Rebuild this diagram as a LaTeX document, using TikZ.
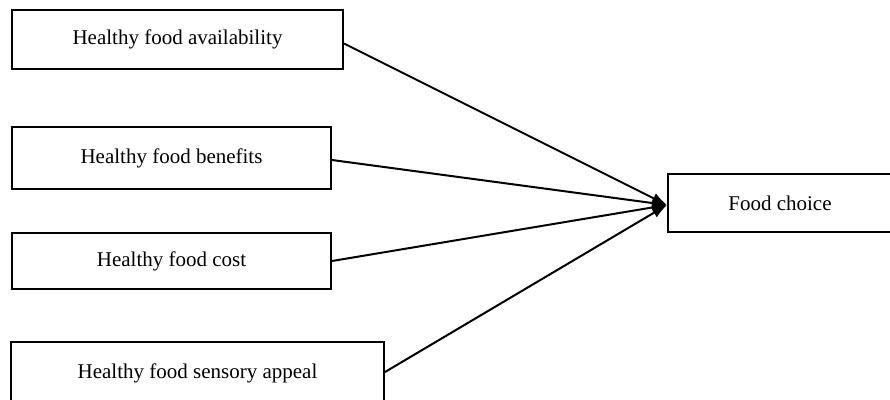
\documentclass[tikz,border=0pt]{standalone}
\usepackage{fontspec}
\setmainfont{Liberation Serif}
\usetikzlibrary{arrows.meta}
\begin{document}
\begin{tikzpicture}[x=1pt,y=-1pt,
  box/.style={draw,line width=2pt,rectangle,inner sep=0pt,font=\fontsize{21}{25}\selectfont},
  link/.style={line width=2pt,-{Latex[length=15pt,width=11pt]}}]
\useasboundingbox (0,0) rectangle (890,399);
\begin{scope}
\clip (0,0) rectangle (890,399);
\node[box,minimum width=331pt,minimum height=59pt] (b1) at (177.5,39.5) {\raisebox{-2pt}{Healthy food availability}};
\node[box,minimum width=319pt,minimum height=62pt] (b2) at (171.5,158) {Healthy food benefits};
\node[box,minimum width=319pt,minimum height=56pt] (b3) at (171.5,261) {\raisebox{-1pt}{Healthy food cost}};
\node[box,minimum width=373pt,minimum height=62pt] (b4) at (197.5,373) {\raisebox{-1pt}{Healthy food sensory appeal}};
\node[box,minimum width=224pt,minimum height=58pt] (fc) at (780,203) {Food choice};
\draw[link] ([yshift=-4pt]b1.east) -- ([yshift=-2pt]fc.west);
\draw[link] ([yshift=-2pt]b2.east) -- ([yshift=-2pt]fc.west);
\draw[link] (b3.east) -- ([yshift=-2pt]fc.west);
\draw[link] ([yshift=1pt]b4.east) -- ([yshift=-2pt]fc.west);
\end{scope}
\end{tikzpicture}
\end{document}
